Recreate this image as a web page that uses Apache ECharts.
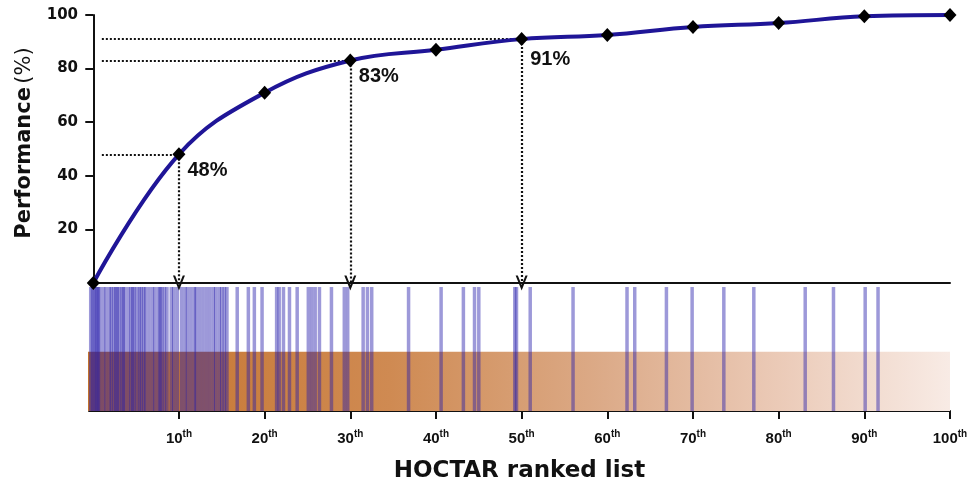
<!DOCTYPE html>
<html>
<head>
<meta charset="utf-8">
<script src="https://cdn.jsdelivr.net/npm/echarts@6/dist/echarts.min.js"></script>
<style>html,body{margin:0;padding:0;background:#fff}#c{width:973px;height:485px}</style>
</head>
<body>
<div id="c"></div>
<script>
// ---- data ----
const ranks = [0, 10, 20, 30, 40, 50, 60, 70, 80, 90, 100];
const performance = [0, 48, 71, 83, 87, 91, 92.5, 95.5, 97, 99.5, 100];
const calloutRanks = [10, 30, 50];
const calloutLabels = ['48%', '83%', '91%'];
const hitRanks = [
  -0.3, -0.1, 0.1, 0.3, 0.45, 0.6, 0.8, 1.2, 1.5, 1.9, 2.1, 2.4, 2.6, 2.8, 3.0, 3.3,
  3.5, 3.7, 4.1, 4.4, 4.6, 4.8, 5.1, 5.4, 5.6, 5.9, 6.1, 6.5, 6.9, 7.2, 7.6, 7.8,
  8.0, 8.3, 8.6, 9.1, 9.4, 9.8, 10.3, 10.7, 11.0, 11.4, 11.8, 12.0, 12.4, 12.8,
  13.2, 13.6, 14.0, 14.3, 14.7, 15.0, 15.3, 15.6, 16.8, 18.1, 18.8, 19.7, 21.4,
  21.7, 22.2, 22.9, 23.8, 25.1, 25.5, 25.9, 26.4, 27.8, 29.3, 29.7, 31.5, 32.0,
  32.5, 36.8, 40.6, 43.2, 44.5, 45.0, 49.2, 49.4, 51.0, 56.0, 62.3, 63.2, 66.9,
  69.9, 73.6, 77.1, 83.1, 86.4, 90.1, 91.6
];
const xTickValues = [10, 20, 30, 40, 50, 60, 70, 80, 90, 100];
const yTickValues = [20, 40, 60, 80, 100];
const xAxisTitle = 'HOCTAR ranked list';
const yAxisTitle = 'Performance';
const yAxisUnit = '(%)';

// ---- chart ----
const chart = echarts.init(document.getElementById('c'), null, {renderer: 'canvas'});
const AXF = 'DejaVu Sans, Liberation Sans, sans-serif';
const ARF = 'Liberation Sans, Arial, sans-serif';
const XMIN = -0.5, XMAX = 100;
const chevron = 'path://M0,10L5,0L10,10L8.2,10L5,3.6L1.8,10Z';

const lineData = ranks.map((r, i) => {
  const k = calloutRanks.indexOf(r);
  const item = {value: [r, performance[i]]};
  if (k >= 0) {
    item.label = {
      show: true, formatter: calloutLabels[k], position: 'right', distance: 2,
      offset: [0, k === 2 ? 20 : 16],
      fontFamily: ARF, fontWeight: 'bold', fontSize: 20, color: '#111'
    };
  }
  return item;
});

const hLines = calloutRanks.map(r => {
  const v = performance[ranks.indexOf(r)];
  return [{coord: [1, v], symbol: 'none'}, {coord: [r, v], symbol: 'none'}];
});
const vLines = calloutRanks.map(r => {
  const v = performance[ranks.indexOf(r)];
  return [{coord: [r, v], symbol: 'none'}, {coord: [r, 0], symbol: chevron, symbolSize: [12, 15]}];
});

const option = {
  animation: false,
  backgroundColor: '#fff',
  grid: [
    {left: 89, right: 23, top: 15, bottom: 202, outerBoundsMode: 'none'},
    {left: 89, right: 23, top: 287, bottom: 74, outerBoundsMode: 'none'}
  ],
  xAxis: [
    {
      type: 'value', gridIndex: 0, min: XMIN, max: XMAX,
      axisLine: {show: true, lineStyle: {color: '#111', width: 2}},
      axisTick: {show: false}, axisLabel: {show: false}, splitLine: {show: false}
    },
    {
      type: 'value', gridIndex: 1, min: XMIN, max: XMAX, position: 'bottom', offset: 7,
      axisLine: {show: true, lineStyle: {color: '#111', width: 2}},
      axisTick: {show: true, length: 8, lineStyle: {color: '#111', width: 2}, customValues: xTickValues},
      axisLabel: {
        show: true, margin: 12, customValues: xTickValues,
        formatter: v => '{n|' + v + '}{s|th}',
        rich: {
          n: {fontFamily: ARF, fontWeight: 'bold', fontSize: 15, color: '#111', lineHeight: 17},
          s: {fontFamily: ARF, fontWeight: 'bold', fontSize: 10, color: '#111', lineHeight: 17, padding: [0, 0, 8, 0]}
        }
      },
      splitLine: {show: false},
      name: xAxisTitle, nameLocation: 'middle', nameGap: 42,
      nameTextStyle: {fontFamily: AXF, fontWeight: 'bold', fontSize: 23, color: '#111'}
    }
  ],
  yAxis: [
    {
      type: 'value', gridIndex: 0, min: 0, max: 100,
      axisLine: {show: true, lineStyle: {color: '#111', width: 2}},
      axisTick: {show: true, length: 8, lineStyle: {color: '#111', width: 2}, customValues: yTickValues},
      axisLabel: {show: true, margin: 11, customValues: yTickValues,
        fontFamily: AXF, fontWeight: 'bold', fontSize: 15, color: '#111'},
      splitLine: {show: false},
      name: '{a|' + yAxisTitle + '} {b|' + yAxisUnit + '}',
      nameLocation: 'middle', nameGap: 54, nameRotate: 90,
      nameTextStyle: {
        padding: [0, 0, 0, 12],
        rich: {
          a: {fontFamily: AXF, fontWeight: 'bold', fontSize: 21, color: '#111'},
          b: {fontFamily: AXF, fontWeight: 'normal', fontSize: 21, color: '#111'}
        }
      }
    },
    {
      type: 'value', gridIndex: 1, min: 0, max: 1, show: false
    }
  ],
  series: [
    {
      type: 'custom', xAxisIndex: 1, yAxisIndex: 1, silent: true, z: 1,
      data: [[XMIN, XMAX]],
      renderItem: (params, api) => {
        const a = api.coord([api.value(0), 0]);
        const b = api.coord([api.value(1), 0.478]);
        return {
          type: 'rect',
          shape: {x: a[0] - 1, y: b[1], width: b[0] - a[0] + 1, height: a[1] - b[1]},
          style: {
            fill: new echarts.graphic.LinearGradient(0, 0, 1, 0, [
              {offset: 0, color: '#c5732c'},
              {offset: 0.35, color: '#cf8a52'},
              {offset: 0.6, color: '#dcab89'},
              {offset: 0.8, color: '#ebcab7'},
              {offset: 1, color: '#f8ebe5'}
            ])
          }
        };
      }
    },
    {
      type: 'custom', xAxisIndex: 1, yAxisIndex: 1, silent: true, z: 2,
      data: hitRanks.map(r => [r, 1]),
      renderItem: (params, api) => {
        const bottom = api.coord([api.value(0), 0]);
        const top = api.coord([api.value(0), 1]);
        return {
          type: 'rect',
          shape: {x: bottom[0] - 1.75, y: top[1], width: 3.5, height: bottom[1] - top[1]},
          style: {fill: 'rgba(38,28,170,0.45)'}
        };
      }
    },
    {
      type: 'line', xAxisIndex: 0, yAxisIndex: 0, z: 5,
      data: lineData,
      smooth: 0.4,
      symbol: 'diamond', symbolSize: [13, 14],
      itemStyle: {color: '#000'},
      lineStyle: {color: '#1f1597', width: 4},
      markLine: {
        silent: true, animation: false,
        symbol: 'none',
        label: {show: false},
        lineStyle: {color: '#111', type: [2, 2], width: 2.2},
        data: hLines.concat(vLines)
      }
    }
  ]
};
chart.setOption(option);
</script>
</body>
</html>
